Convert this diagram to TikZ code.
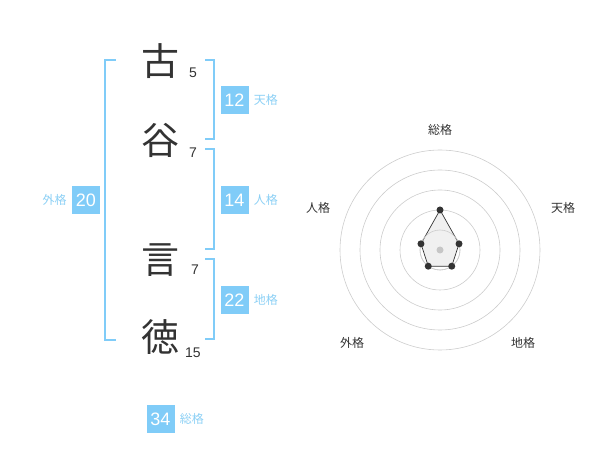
\documentclass[tikz,border=0pt]{standalone}
\usepackage{fontspec}
\setmainfont{Liberation Sans}
\newfontfamily\jp{Noto Sans CJK JP}
\usetikzlibrary{positioning,calc}
\definecolor{celeste}{HTML}{80CCF8}
\definecolor{celestetxt}{HTML}{8CD0F5}
\definecolor{tinta}{HTML}{333333}
\tikzset{
  kanji/.style={text=tinta, inner sep=0pt, font=\jp\fontsize{38}{38}\selectfont},
  trazos/.style={text=tinta, inner sep=0pt, font=\fontsize{14}{14}\selectfont},
  caja/.style={fill=celeste, text=white, minimum size=28pt, inner sep=0pt, font=\fontsize{18}{18}\selectfont},
  etiq/.style={text=celestetxt, inner sep=0pt, font=\jp\fontsize{12}{12}\selectfont},
  corchete/.style={celeste, line width=2pt},
  radar/.style={text=tinta, inner sep=0pt, font=\jp\fontsize{12}{12}\selectfont}
}
\begin{document}
\begin{tikzpicture}[x=1pt,y=-1pt]
        \useasboundingbox (0,0) rectangle (600,470);

        % Caracteres del nombre
        \node[kanji] (k1) at (160,61) {古};
        \node[kanji] (k2) at (160,140) {谷};
        \node[kanji] (k3) at (160,260) {言};
        \node[kanji] (k4) at (160,337) {徳};

        % Numero de trazos
        \node[trazos] (t1) at (193,73) {5};
        \node[trazos] (t2) at (193,153) {7};
        \node[trazos] (t3) at (195,270) {7};
        \node[trazos] (t4) at (193,353) {15};

        % Corchetes
        \draw[corchete] (115.5,60) -- (105,60) -- (105,340) -- (115.5,340);
        \draw[corchete] (205,60) -- (214,60) -- (214,139.5) -- (205,139.5);
        \draw[corchete] (205,149.5) -- (214,149.5) -- (214,249.5) -- (205,249.5);
        \draw[corchete] (205,259.5) -- (214,259.5) -- (214,339.5) -- (205,339.5);

        % Cajas con los resultados
        \node[caja] (ten) at (234.5,100) {12};
        \node[etiq, right=5pt of ten] {天格};
        \node[caja] (jin) at (234.5,200) {14};
        \node[etiq, right=5pt of jin] {人格};
        \node[caja] (chi) at (234.5,300) {22};
        \node[etiq, right=5pt of chi] {地格};
        \node[caja] (gai) at (86,200) {20};
        \node[etiq, left=5pt of gai] {外格};
        \node[caja] (sou) at (160.5,419) {34};
        \node[etiq, right=5pt of sou] {総格};

        % Circulos del radar
        \coordinate (c) at (440,250);
        \foreach \r in {20,40,60,80,100}
            \draw[gray!40, line width=0.6pt] (c) circle (\r);

        % Poligono de valores
        \coordinate (p1) at ($(c)+(270:40)$);
        \coordinate (p2) at ($(c)+(-18:20)$);
        \coordinate (p3) at ($(c)+(54:20)$);
        \coordinate (p4) at ($(c)+(126:20)$);
        \coordinate (p5) at ($(c)+(198:20)$);
        \draw[tinta, fill=gray!12, line width=0.7pt] (p1) -- (p2) -- (p3) -- (p4) -- (p5) -- cycle;
        \draw[gray!40, line width=0.6pt] (c) circle (20);
        \fill[gray!45] (c) circle (3.5);
        \foreach \p in {p1,p2,p3,p4,p5}
            \fill[tinta] (\p) circle (3.5);

        % Nombres de los ejes
        \node[radar] at (440,130) {総格};
        \node[radar] at (563,208) {天格};
        \node[radar] at (318,208) {人格};
        \node[radar] at (523,343) {地格};
        \node[radar] at (352,343) {外格};

\end{tikzpicture}
\end{document}
